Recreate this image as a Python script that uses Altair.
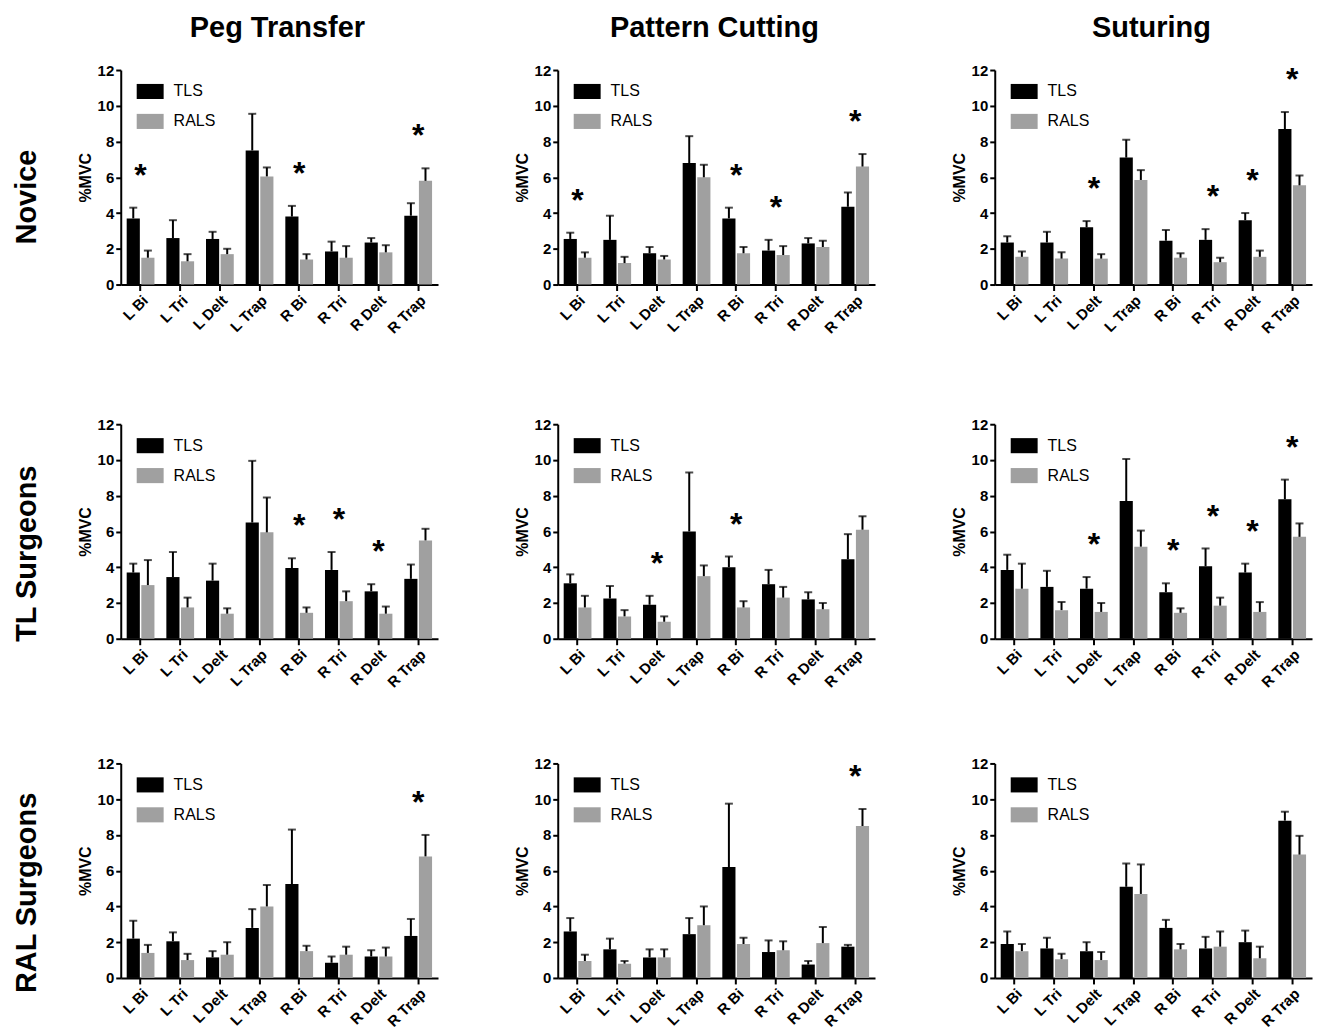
import altair as alt
import pandas as pd

MUSCLES = ["L Bi", "L Tri", "L Delt", "L Trap", "R Bi", "R Tri", "R Delt", "R Trap"]
GROUPS = ["TLS", "RALS"]
COLORS = ["#000000", "#a0a0a0"]
TASKS = ["Peg Transfer", "Pattern Cutting", "Suturing"]
COHORTS = ["Novice", "TL Surgeons", "RAL Surgeons"]
Y_TICKS = [0, 2, 4, 6, 8, 10, 12]

# Novice
NOV_PEG_TLS = [3.7, 2.6, 2.55, 7.5, 3.8, 1.85, 2.35, 3.85]
NOV_PEG_TLS_ERR = [0.6, 1.0, 0.4, 2.05, 0.6, 0.55, 0.25, 0.7]
NOV_PEG_RALS = [1.5, 1.3, 1.7, 6.05, 1.4, 1.5, 1.8, 5.8]
NOV_PEG_RALS_ERR = [0.4, 0.4, 0.3, 0.5, 0.3, 0.65, 0.4, 0.7]
NOV_PEG_SIG = ["L Bi", "R Bi", "R Trap"]

NOV_PAT_TLS = [2.55, 2.5, 1.75, 6.8, 3.7, 1.9, 2.3, 4.35]
NOV_PAT_TLS_ERR = [0.35, 1.35, 0.35, 1.5, 0.6, 0.6, 0.3, 0.8]
NOV_PAT_RALS = [1.5, 1.2, 1.4, 6.0, 1.75, 1.65, 2.1, 6.6]
NOV_PAT_RALS_ERR = [0.3, 0.35, 0.2, 0.7, 0.35, 0.5, 0.35, 0.7]
NOV_PAT_SIG = ["L Bi", "R Bi", "R Tri", "R Trap"]

NOV_SUT_TLS = [2.35, 2.35, 3.2, 7.1, 2.45, 2.5, 3.6, 8.7]
NOV_SUT_TLS_ERR = [0.35, 0.6, 0.35, 1.0, 0.6, 0.6, 0.4, 0.95]
NOV_SUT_RALS = [1.55, 1.45, 1.45, 5.85, 1.5, 1.25, 1.55, 5.55]
NOV_SUT_RALS_ERR = [0.3, 0.35, 0.25, 0.55, 0.25, 0.25, 0.35, 0.55]
NOV_SUT_SIG = ["L Delt", "R Tri", "R Delt", "R Trap"]

# TL Surgeons
TL_PEG_TLS = [3.7, 3.45, 3.25, 6.5, 3.95, 3.85, 2.65, 3.35]
TL_PEG_TLS_ERR = [0.5, 1.4, 0.95, 3.45, 0.55, 1.0, 0.4, 0.8]
TL_PEG_RALS = [3.0, 1.75, 1.4, 5.95, 1.45, 2.1, 1.4, 5.5]
TL_PEG_RALS_ERR = [1.4, 0.55, 0.3, 1.95, 0.3, 0.55, 0.4, 0.65]
TL_PEG_SIG = ["R Bi", "R Tri", "R Delt"]

TL_PAT_TLS = [3.1, 2.25, 1.9, 6.0, 4.0, 3.05, 2.2, 4.45]
TL_PAT_TLS_ERR = [0.5, 0.7, 0.5, 3.3, 0.6, 0.8, 0.4, 1.4]
TL_PAT_RALS = [1.75, 1.25, 0.95, 3.5, 1.75, 2.3, 1.65, 6.1]
TL_PAT_RALS_ERR = [0.65, 0.35, 0.3, 0.6, 0.35, 0.6, 0.35, 0.75]
TL_PAT_SIG = ["L Delt", "R Bi"]

TL_SUT_TLS = [3.85, 2.9, 2.8, 7.7, 2.6, 4.05, 3.7, 7.8]
TL_SUT_TLS_ERR = [0.85, 0.9, 0.65, 2.35, 0.5, 1.0, 0.5, 1.1]
TL_SUT_RALS = [2.8, 1.6, 1.5, 5.15, 1.45, 1.85, 1.5, 5.7]
TL_SUT_RALS_ERR = [1.4, 0.45, 0.5, 0.9, 0.25, 0.45, 0.55, 0.75]
TL_SUT_SIG = ["L Delt", "R Bi", "R Tri", "R Delt", "R Trap"]

# RAL Surgeons
RAL_PEG_TLS = [2.2, 2.05, 1.15, 2.8, 5.25, 0.85, 1.2, 2.35]
RAL_PEG_TLS_ERR = [1.0, 0.5, 0.35, 1.05, 3.05, 0.35, 0.35, 0.95]
RAL_PEG_RALS = [1.4, 1.0, 1.3, 4.0, 1.5, 1.3, 1.2, 6.8]
RAL_PEG_RALS_ERR = [0.45, 0.35, 0.7, 1.2, 0.3, 0.45, 0.5, 1.2]
RAL_PEG_SIG = ["R Trap"]

RAL_PAT_TLS = [2.6, 1.6, 1.15, 2.45, 6.2, 1.45, 0.75, 1.75]
RAL_PAT_TLS_ERR = [0.75, 0.6, 0.45, 0.9, 3.55, 0.65, 0.2, 0.1]
RAL_PAT_RALS = [0.95, 0.8, 1.15, 2.95, 1.9, 1.55, 1.95, 8.5]
RAL_PAT_RALS_ERR = [0.35, 0.15, 0.45, 1.05, 0.35, 0.5, 0.9, 0.95]
RAL_PAT_SIG = ["R Trap"]

RAL_SUT_TLS = [1.9, 1.65, 1.5, 5.1, 2.8, 1.65, 2.0, 8.8]
RAL_SUT_TLS_ERR = [0.7, 0.6, 0.5, 1.3, 0.45, 0.65, 0.65, 0.5]
RAL_SUT_RALS = [1.5, 1.05, 1.0, 4.7, 1.6, 1.75, 1.1, 6.9]
RAL_SUT_RALS_ERR = [0.4, 0.3, 0.45, 1.65, 0.3, 0.85, 0.65, 1.05]
RAL_SUT_SIG = []

FONT = "Liberation Sans"
PW, PH = 318, 215


def panel(tls, tls_err, rals, rals_err, sig, title=None):
    rows = []
    for i, m in enumerate(MUSCLES):
        rows.append({"muscle": m, "group": "TLS", "mean": tls[i], "top": tls[i] + tls_err[i]})
        rows.append({"muscle": m, "group": "RALS", "mean": rals[i], "top": rals[i] + rals_err[i]})
    df = pd.DataFrame(rows)
    star_rows = []
    for m in sig:
        i = MUSCLES.index(m)
        star_rows.append({"muscle": m, "y": max(tls[i] + tls_err[i], rals[i] + rals_err[i]), "t": "*"})
    sdf = pd.DataFrame(star_rows if star_rows else [{"muscle": "L Bi", "y": 0.0, "t": ""}])

    x = alt.X("muscle:N", sort=MUSCLES,
              scale=alt.Scale(paddingInner=0.3, paddingOuter=0.15),
              axis=alt.Axis(title=None, labelAngle=-45, labelAlign="right", labelBaseline="top"))
    xo = alt.XOffset("group:N", sort=GROUPS, scale=alt.Scale(paddingInner=0.1))
    yscale = alt.Scale(domain=[0, 12], nice=False)
    yaxis = alt.Axis(values=Y_TICKS, title="%MVC")

    base = alt.Chart(df)
    bars = base.mark_bar().encode(
        x=x, xOffset=xo, y=alt.Y("mean:Q", scale=yscale, axis=yaxis),
        color=alt.Color("group:N", sort=GROUPS,
                        scale=alt.Scale(domain=GROUPS, range=COLORS),
                        legend=alt.Legend(title=None, orient="none", legendX=16, legendY=8,
                                          symbolType="M-1,-0.56H1V0.56H-1Z", symbolSize=729,
                                          symbolStrokeWidth=0, symbolOpacity=1,
                                          labelFontSize=16, labelFont=FONT, labelColor="black",
                                          labelOffset=10, rowPadding=8, padding=0)),
    )
    rules = base.mark_rule(color="black", strokeWidth=2).encode(
        x=x, xOffset=xo, y=alt.Y("mean:Q", scale=yscale, axis=yaxis), y2="top:Q")
    caps = base.mark_tick(color="black", thickness=2, size=8).encode(
        x=x, xOffset=xo, y=alt.Y("top:Q", scale=yscale, axis=yaxis))
    stars = alt.Chart(sdf).mark_text(fontSize=32, fontWeight="bold", font=FONT,
                                     baseline="alphabetic", dy=-22, color="black").encode(
        x=x, y=alt.Y("y:Q", scale=yscale, axis=yaxis), text="t:N")
    ch = alt.layer(bars, rules, caps, stars).properties(width=PW, height=PH)
    if title:
        ch = ch.properties(title=alt.TitleParams(title, fontSize=29, fontWeight="bold", font=FONT,
                                                 anchor="middle", frame="group", offset=20, dx=-2,
                                                 color="black"))
    return ch


grid = [
    [(NOV_PEG_TLS, NOV_PEG_TLS_ERR, NOV_PEG_RALS, NOV_PEG_RALS_ERR, NOV_PEG_SIG),
     (NOV_PAT_TLS, NOV_PAT_TLS_ERR, NOV_PAT_RALS, NOV_PAT_RALS_ERR, NOV_PAT_SIG),
     (NOV_SUT_TLS, NOV_SUT_TLS_ERR, NOV_SUT_RALS, NOV_SUT_RALS_ERR, NOV_SUT_SIG)],
    [(TL_PEG_TLS, TL_PEG_TLS_ERR, TL_PEG_RALS, TL_PEG_RALS_ERR, TL_PEG_SIG),
     (TL_PAT_TLS, TL_PAT_TLS_ERR, TL_PAT_RALS, TL_PAT_RALS_ERR, TL_PAT_SIG),
     (TL_SUT_TLS, TL_SUT_TLS_ERR, TL_SUT_RALS, TL_SUT_RALS_ERR, TL_SUT_SIG)],
    [(RAL_PEG_TLS, RAL_PEG_TLS_ERR, RAL_PEG_RALS, RAL_PEG_RALS_ERR, RAL_PEG_SIG),
     (RAL_PAT_TLS, RAL_PAT_TLS_ERR, RAL_PAT_RALS, RAL_PAT_RALS_ERR, RAL_PAT_SIG),
     (RAL_SUT_TLS, RAL_SUT_TLS_ERR, RAL_SUT_RALS, RAL_SUT_RALS_ERR, RAL_SUT_SIG)],
]

rows = []
for r, cohort in enumerate(COHORTS):
    panels = []
    for c in range(3):
        args = grid[r][c]
        panels.append(panel(*args, title=TASKS[c] if r == 0 else None))
    tp = dict(orient="left", anchor="middle", fontSize=29, fontWeight="bold",
              font=FONT, offset=35, color="black")
    if r == 0:
        tp["dx"] = -22
    row = alt.hconcat(*panels, spacing=76).properties(
        title=alt.TitleParams(cohort, **tp)
    ).resolve_scale(color="independent").resolve_legend(color="independent")
    rows.append(row)

top_two = alt.vconcat(rows[0], rows[1], spacing=81).resolve_scale(
    color="independent").resolve_legend(color="independent")

chart = alt.vconcat(top_two, rows[2], spacing=66).resolve_scale(color="independent").resolve_legend(
    color="independent"
).properties(
    padding={"left": 5, "top": 5, "right": 5, "bottom": 0}
).configure_view(stroke=None).configure_axis(
    grid=False, domainColor="black", domainWidth=2, tickColor="black", tickWidth=2,
    tickSize=5, labelColor="black", labelFont=FONT, labelFontWeight="bold", labelFontSize=15,
    titleFont=FONT, titleFontSize=16, titleFontWeight="bold", titleColor="black",
).configure_axisX(labelFontSize=15, tickSize=6)

chart.save("out.html", embed_options={"renderer": "svg", "actions": False})
